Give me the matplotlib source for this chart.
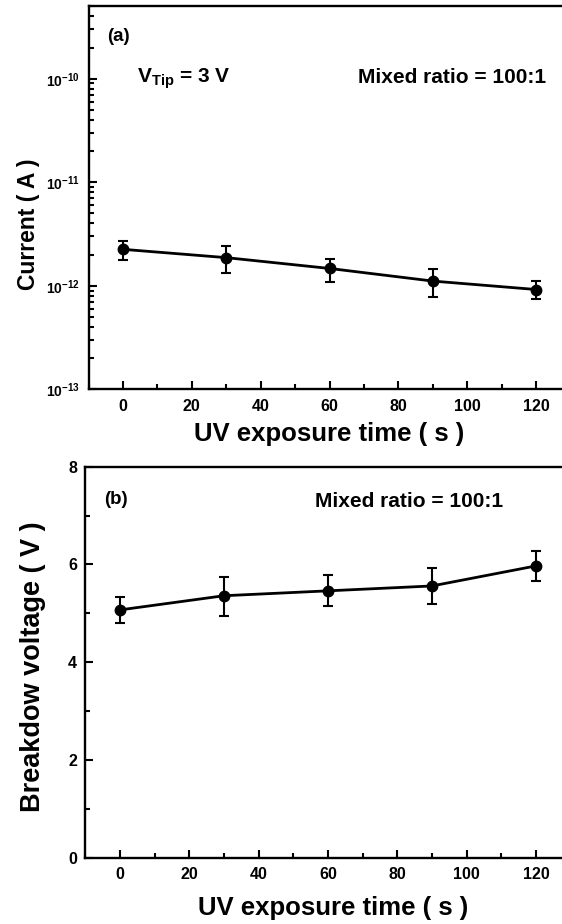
import matplotlib
matplotlib.use("Agg")
import matplotlib.pyplot as plt
from matplotlib.ticker import MultipleLocator, FixedLocator, LogLocator, NullFormatter, FuncFormatter
import numpy as np

plt.rcParams['font.family'] = ['Liberation Sans', 'DejaVu Sans']
plt.rcParams['font.weight'] = 'bold'
plt.rcParams['axes.labelweight'] = 'bold'
plt.rcParams['mathtext.fontset'] = 'custom'
plt.rcParams['mathtext.rm'] = 'Liberation Sans:bold'
plt.rcParams['mathtext.bf'] = 'Liberation Sans:bold'
plt.rcParams['mathtext.it'] = 'Liberation Sans:bold'

# ---- data ----
uv_time = [0, 30, 60, 90, 120]
current = [2.25e-12, 1.87e-12, 1.47e-12, 1.11e-12, 9.2e-13]
current_hi = [2.68e-12, 2.44e-12, 1.80e-12, 1.44e-12, 1.10e-12]
current_lo = [1.79e-12, 1.32e-12, 1.09e-12, 7.75e-13, 7.41e-13]

breakdown = [5.07, 5.36, 5.46, 5.56, 5.97]
breakdown_hi = [5.33, 5.75, 5.78, 5.92, 6.28]
breakdown_lo = [4.81, 4.95, 5.14, 5.19, 5.67]

xticks = [0, 20, 40, 60, 80, 100, 120]
yticks_a = [1e-13, 1e-12, 1e-11, 1e-10]
yticks_b = [0, 2, 4, 6, 8]
xlabel = "UV exposure time ( s )"
ylabel_a = "Current ( A )"
ylabel_b = "Breakdow voltage ( V )"

W, H = 562, 924
fig = plt.figure(figsize=(W / 100, H / 100), dpi=100)

def px_axes(left, top, right, bottom):
    return fig.add_axes([left / W, 1 - bottom / H, (right - left) / W, (bottom - top) / H])

ax1 = px_axes(88.5, 5.5, 88.5 + 482.2, 389.3)
ax2 = px_axes(85.3, 466.7, 85.3 + 485.3, 857.7)

def style(ax):
    for s in ['left', 'bottom', 'top']:
        ax.spines[s].set_linewidth(1.7)
    ax.spines['right'].set_visible(False)
    ax.tick_params(which='both', direction='in', width=1.5, top=False, right=False)
    ax.tick_params(which='major', length=6)
    ax.tick_params(which='minor', length=3.5)
    ax.tick_params(axis='x', which='major', labelsize=11.5, pad=7)
    ax.xaxis.set_major_locator(FixedLocator(xticks))
    ax.xaxis.set_minor_locator(MultipleLocator(10))
    ax.set_xlim(-10, 130)

def err(y, lo, hi):
    y = np.array(y); return [y - np.array(lo), np.array(hi) - y]

ekw = dict(fmt='-o', color='black', ms=7.5, lw=2.0, elinewidth=1.5, capsize=3.5, capthick=1.5)

# ---- panel (a) ----
ax1.errorbar(uv_time, current, yerr=err(current, current_lo, current_hi), **ekw)
ax1.set_yscale('log')
ax1.set_ylim(1e-13, 5.1e-10)
style(ax1)
ax1.yaxis.set_major_locator(FixedLocator(yticks_a))
ax1.yaxis.set_minor_locator(LogLocator(base=10, subs=np.arange(2, 10), numticks=20))
ax1.yaxis.set_minor_formatter(NullFormatter())
ax1.yaxis.set_major_formatter(FuncFormatter(lambda v, p: r'$10^{%d}$' % int(round(np.log10(v)))))
ax1.tick_params(axis='y', which='major', labelsize=10, pad=6)
ax1.set_xlabel(xlabel, fontsize=18.5, fontweight='bold')
ax1.xaxis.set_label_coords(0.5, -0.086)
ax1.set_ylabel(ylabel_a, fontsize=16.5, fontweight='bold', va='center')
ax1.yaxis.set_label_coords(-0.125, 0.431)
ax1.text(0.063, 0.919, "(a)", transform=ax1.transAxes, fontsize=13.5, fontweight='bold', ha='center', va='center')
ax1.text(0.1006, 0.81, r"V$_{\mathrm{Tip}}$ = 3 V", transform=ax1.transAxes, fontsize=15, fontweight='bold', ha='left', va='center')
ax1.text(0.559, 0.813, "Mixed ratio = 100:1", transform=ax1.transAxes, fontsize=15, fontweight='bold', ha='left', va='center')

# ---- panel (b) ----
ax2.errorbar(uv_time, breakdown, yerr=err(breakdown, breakdown_lo, breakdown_hi), **ekw)
ax2.set_ylim(0, 8)
style(ax2)
ax2.yaxis.set_major_locator(FixedLocator(yticks_b))
ax2.yaxis.set_minor_locator(MultipleLocator(1))
ax2.tick_params(axis='y', which='major', labelsize=11.5, pad=6)
ax2.set_xlabel(xlabel, fontsize=18.5, fontweight='bold')
ax2.xaxis.set_label_coords(0.511, -0.099)
ax2.set_ylabel(ylabel_b, fontsize=19.5, fontweight='bold', va='center')
ax2.yaxis.set_label_coords(-0.108, 0.489)
ax2.text(0.0633, 0.917, "(b)", transform=ax2.transAxes, fontsize=13.5, fontweight='bold', ha='center', va='center')
ax2.text(0.473, 0.912, "Mixed ratio = 100:1", transform=ax2.transAxes, fontsize=15, fontweight='bold', ha='left', va='center')

fig.savefig("out.png", dpi=100)
